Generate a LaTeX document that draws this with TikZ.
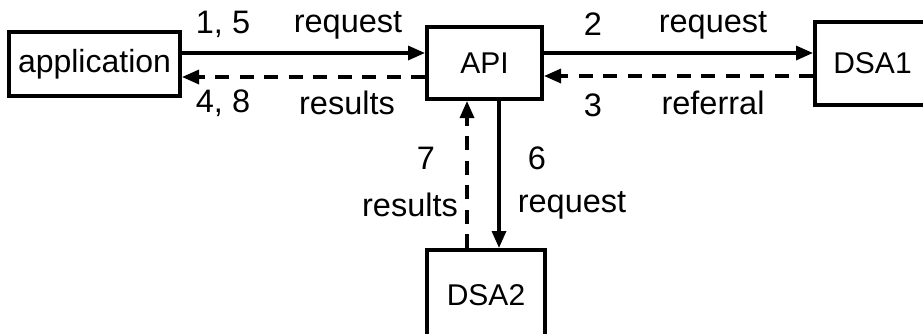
\documentclass[tikz,border=0pt]{standalone}
\usepackage{fontspec}
\setmainfont{Liberation Sans}
\usetikzlibrary{arrows.meta}
\tikzset{
  box/.style={draw=black, line width=4pt, rectangle, inner sep=0pt, font=\fontsize{30}{35}\selectfont},
  lbl/.style={inner sep=0pt, font=\fontsize{32.5}{38}\selectfont},
  conn/.style={line width=3.3pt, -{Triangle[length=17pt,width=14pt]}},
  back/.style={conn, dash pattern=on 14pt off 10.5pt},
}
\begin{document}
\begin{tikzpicture}[x=1pt,y=-1pt]
\useasboundingbox (0,0) rectangle (923,333);
\clip (0,0) rectangle (923,333);
\fill[white] (0,0) rectangle (923,333);
% boxes
\node[box, minimum width=171pt, minimum height=64pt, font=\fontsize{32}{37}\selectfont] (app) at (94.5,64) {application};
\node[box, minimum width=115pt, minimum height=72pt] (api) at (484.5,63) {API};
\node[box, minimum width=115pt, minimum height=83pt] (dsa1) at (872.5,63.5) {DSA1};
\node[box, minimum width=118pt, minimum height=90pt] (dsa2) at (486,295) {DSA2};
% connectors
\draw[conn] ([yshift=11pt]app.east) -- ([yshift=10pt]api.west);
\draw[back] ([yshift=-14pt]api.west) -- ([yshift=-13pt]app.east);
\draw[conn] ([yshift=10pt]api.east) -- ([yshift=10.5pt]dsa1.west);
\draw[back] ([yshift=-12.5pt]dsa1.west) -- ([yshift=-13pt]api.east);
\draw[conn] ([xshift=14.5pt]api.south) -- ([xshift=13pt]dsa2.north);
\draw[back] ([xshift=-19pt]dsa2.north) -- ([xshift=-17.5pt]api.south);
% labels
\node[lbl] (l15) at (223,24) {1, 5};
\node[lbl] (lreq1) at (348,25) {request};
\node[lbl] (l48) at (223,103) {4, 8};
\node[lbl] (lres1) at (347,103) {results};
\node[lbl] (l2) at (593,24) {2};
\node[lbl] (lreq2) at (713,25) {request};
\node[lbl] (l3) at (593,105) {3};
\node[lbl] (lref) at (713,103) {referral};
\node[lbl] (l7) at (426,158) {7};
\node[lbl] (lres2) at (410,205) {results};
\node[lbl] (l6) at (537,158) {6};
\node[lbl] (lreq3) at (572,205) {request};
\end{tikzpicture}
\end{document}
